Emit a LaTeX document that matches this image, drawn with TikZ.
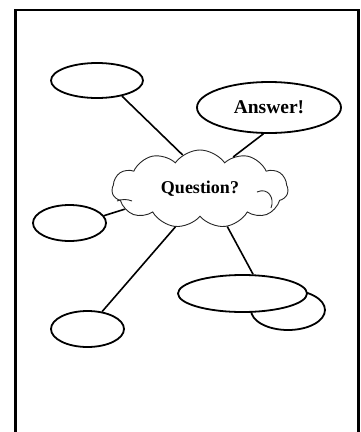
\documentclass[tikz,border=0pt]{standalone}
\usepackage{fontspec}
\setmainfont{Liberation Serif}
\usetikzlibrary{shapes.symbols,shapes.geometric}
\begin{document}
\begin{tikzpicture}[x=1pt,y=-1pt,
  bubble/.style={draw=black,line width=1.8pt,fill=white,ellipse,inner sep=0pt},
  idea/.style={cloud,draw=black!85,line width=0.9pt,fill=white,cloud puffs=11,
    cloud puff arc=110,cloud ignores aspect,minimum width=176pt,minimum height=78pt,inner sep=0pt},
  curl/.style={draw=black!85,line width=0.9pt},
  link/.style={line width=1.6pt,black},
  qtext/.style={font=\fontsize{18}{21}\selectfont\bfseries},
  atext/.style={font=\fontsize{19.5}{22}\selectfont\bfseries}]
  \useasboundingbox (0,0) rectangle (360,432);
  \clip (0,0) rectangle (360,432);
  % page frame
  \draw[line width=2.2pt] (15.5,10) rectangle (358.5,460);
  % central cloud
  \node[idea,qtext] (q) at (200,189) {Question?};
  \draw[curl] (257,192) .. controls (268,187) and (275,198) .. (271,208);
  \draw[curl] (117,201) .. controls (122,199) and (127,199) .. (132,201);
  % surrounding bubbles
  \node[bubble,minimum width=92pt,minimum height=35pt] (tl) at (97,80.5) {};
  \node[bubble,minimum width=144pt,minimum height=51pt,atext] (ans) at (269,107.5) {Answer!};
  \node[bubble,minimum width=73pt,minimum height=36pt] (lf) at (69.5,223) {};
  \node[bubble,minimum width=73pt,minimum height=36pt] (bl) at (87.5,329) {};
  \node[bubble,minimum width=74pt,minimum height=40pt] (rb) at (288,310) {};
  \node[bubble,minimum width=129pt,minimum height=37pt] (rf) at (242.5,293.5) {};
  % connectors
  \draw[link] (tl.-32) -- (q.117);
  \draw[link] (ans.-102) -- (q.44);
  \draw[link] (lf.12) -- (q.195);
  \draw[link] (bl.50) -- (q.237);
  \draw[link] (rf.61.5) -- (q.-54);
\end{tikzpicture}
\end{document}
